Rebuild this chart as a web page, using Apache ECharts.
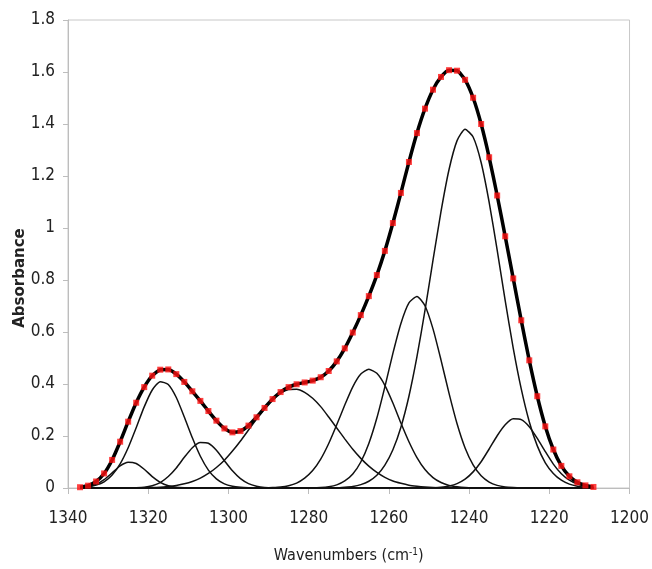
<!DOCTYPE html>
<html><head><meta charset="utf-8">
<script src="https://cdn.jsdelivr.net/npm/echarts/dist/echarts.min.js"></script>
<style>html,body{margin:0;padding:0;background:#fff}#c{width:652px;height:569px}</style>
</head><body><div id="c"></div>
<script>
// Wavenumbers (cm-1), descending, 2 cm-1 step
const wavenumbers = [1337,1335,1333,1331,1329,1327,1325,1323,1321,1319,1317,1315,1313,1311,1309,1307,1305,1303,1301,1299,1297,1295,1293,1291,1289,1287,1285,1283,1281,1279,1277,1275,1273,1271,1269,1267,1265,1263,1261,1259,1257,1255,1253,1251,1249,1247,1245,1243,1241,1239,1237,1235,1233,1231,1229,1227,1225,1223,1221,1219,1217,1215,1213,1211,1209];
// Measured spectrum (red squares) and fitted envelope (thick black line)
const absorbance = [0.003,0.009,0.025,0.056,0.108,0.178,0.255,0.328,0.388,0.432,0.455,0.456,0.438,0.408,0.372,0.335,0.296,0.259,0.229,0.214,0.219,0.240,0.272,0.308,0.342,0.369,0.388,0.399,0.406,0.413,0.426,0.450,0.487,0.537,0.598,0.665,0.738,0.819,0.912,1.019,1.135,1.254,1.365,1.459,1.532,1.581,1.607,1.605,1.570,1.501,1.400,1.272,1.125,0.968,0.806,0.645,0.491,0.353,0.237,0.148,0.085,0.045,0.022,0.010,0.004];
// Fitted component bands
const band1324 = [0.002,0.005,0.014,0.032,0.058,0.085,0.099,0.094,0.072,0.044,0.022,0.009,0.003,0.001,0,0,0,0,0,0,0,0,0,0,0,0,0,0,0,0,0,0,0,0,0,0,0,0,0,0,0,0,0,0,0,0,0,0,0,0,0,0,0,0,0,0,0,0,0,0,0,0,0,0,0];
const band1316 = [0.001,0.004,0.011,0.024,0.050,0.093,0.155,0.232,0.312,0.377,0.409,0.398,0.348,0.273,0.193,0.122,0.069,0.035,0.016,0.007,0.003,0.001,0,0,0,0,0,0,0,0,0,0,0,0,0,0,0,0,0,0,0,0,0,0,0,0,0,0,0,0,0,0,0,0,0,0,0,0,0,0,0,0,0,0,0];
const band1306 = [0,0,0,0,0,0,0,0.001,0.003,0.009,0.021,0.044,0.077,0.118,0.155,0.175,0.172,0.145,0.105,0.066,0.036,0.017,0.007,0.002,0.001,0,0,0,0,0,0,0,0,0,0,0,0,0,0,0,0,0,0,0,0,0,0,0,0,0,0,0,0,0,0,0,0,0,0,0,0,0,0,0,0];
const band1284 = [0,0,0,0,0,0,0,0.001,0.001,0.002,0.003,0.006,0.010,0.016,0.025,0.038,0.056,0.079,0.107,0.142,0.181,0.223,0.265,0.305,0.339,0.365,0.379,0.380,0.368,0.345,0.313,0.273,0.231,0.189,0.149,0.114,0.084,0.060,0.041,0.027,0.018,0.011,0.007,0.004,0.002,0.001,0.001,0,0,0,0,0,0,0,0,0,0,0,0,0,0,0,0,0,0];
const band1265 = [0,0,0,0,0,0,0,0,0,0,0,0,0,0,0,0,0,0,0,0,0,0,0,0.001,0.002,0.004,0.009,0.019,0.038,0.067,0.111,0.171,0.243,0.319,0.389,0.438,0.457,0.441,0.395,0.327,0.250,0.178,0.117,0.071,0.040,0.021,0.010,0.005,0.002,0.001,0,0,0,0,0,0,0,0,0,0,0,0,0,0,0];
const band1253 = [0,0,0,0,0,0,0,0,0,0,0,0,0,0,0,0,0,0,0,0,0,0,0,0,0,0,0,0,0,0.001,0.002,0.005,0.012,0.027,0.054,0.100,0.171,0.269,0.389,0.518,0.633,0.712,0.737,0.701,0.612,0.492,0.364,0.247,0.154,0.089,0.047,0.023,0.010,0.004,0.002,0.001,0,0,0,0,0,0,0,0,0];
const band1241 = [0,0,0,0,0,0,0,0,0,0,0,0,0,0,0,0,0,0,0,0,0,0,0,0,0,0,0,0,0,0,0,0.001,0.001,0.003,0.006,0.013,0.026,0.049,0.088,0.147,0.234,0.353,0.505,0.683,0.876,1.064,1.225,1.336,1.380,1.350,1.252,1.099,0.915,0.721,0.538,0.381,0.255,0.162,0.097,0.056,0.030,0.015,0.007,0.003,0.002];
const band1228 = [0,0,0,0,0,0,0,0,0,0,0,0,0,0,0,0,0,0,0,0,0,0,0,0,0,0,0,0,0,0,0,0,0,0,0,0,0,0,0,0,0,0,0,0,0.001,0.003,0.008,0.017,0.034,0.062,0.101,0.150,0.201,0.243,0.266,0.263,0.236,0.191,0.140,0.092,0.055,0.030,0.015,0.007,0.003];
const bands = [band1324, band1316, band1306, band1284, band1265, band1253, band1241, band1228];

const pairs = arr => wavenumbers.map((w, i) => [w, arr[i]]);
const chart = echarts.init(document.getElementById('c'), null, {renderer: 'canvas'});
const labelFont = "'Liberation Sans Narrow','Arial Narrow','DejaVu Sans Condensed',sans-serif";
const series = bands.map(b => ({
  type: 'line', data: pairs(b), smooth: 0.2, showSymbol: false, symbol: 'none',
  lineStyle: {color: '#111', width: 1.5}, z: 2, silent: true
}));
series.push({type: 'line', data: pairs(absorbance), smooth: 0.2, showSymbol: false, symbol: 'none',
  lineStyle: {color: '#000', width: 3.5}, z: 3, silent: true});
series.push({type: 'scatter', data: pairs(absorbance), symbol: 'rect', symbolSize: 6,
  itemStyle: {color: '#ff1010'}, z: 4, silent: true});

chart.setOption({
  animation: false,
  backgroundColor: '#fff',
  grid: {left: 68, top: 20, right: 16, bottom: 71, show: true, borderColor: '#c8c8c8', borderWidth: 1},
  xAxis: {
    type: 'value', min: 1200, max: 1340, interval: 20, inverse: true,
    axisLine: {show: true, lineStyle: {color: '#bdbdbd', width: 1}},
    axisTick: {show: true, length: 6, lineStyle: {color: '#bdbdbd'}},
    splitLine: {show: false},
    axisLabel: {fontSize: 17, color: '#222', fontFamily: labelFont, margin: 22, formatter: v => String(v)},
    name: 'Wavenumbers (cm{sup|-1})', nameLocation: 'middle', nameGap: 59,
    nameTextStyle: {fontSize: 16, color: '#222', fontFamily: labelFont,
      rich: {sup: {fontSize: 10, color: '#222', fontFamily: labelFont, verticalAlign: 'top', padding: [0,0,8,0]}}}
  },
  yAxis: {
    type: 'value', min: 0, max: 1.8, interval: 0.2,
    axisLine: {show: true, lineStyle: {color: '#bdbdbd', width: 1}},
    axisTick: {show: true, length: 5, lineStyle: {color: '#bdbdbd'}},
    splitLine: {show: false},
    axisLabel: {fontSize: 17, color: '#222', fontFamily: labelFont, margin: 13}
  },
  graphic: [{
    type: 'text', x: 20, y: 278, rotation: Math.PI / 2,
    style: {text: 'Absorbance', fontSize: 15, fontWeight: 'bold', fontFamily: "'DejaVu Sans',sans-serif",
      fill: '#222', align: 'center', verticalAlign: 'middle'}
  }],
  series: series
});
</script></body></html>
